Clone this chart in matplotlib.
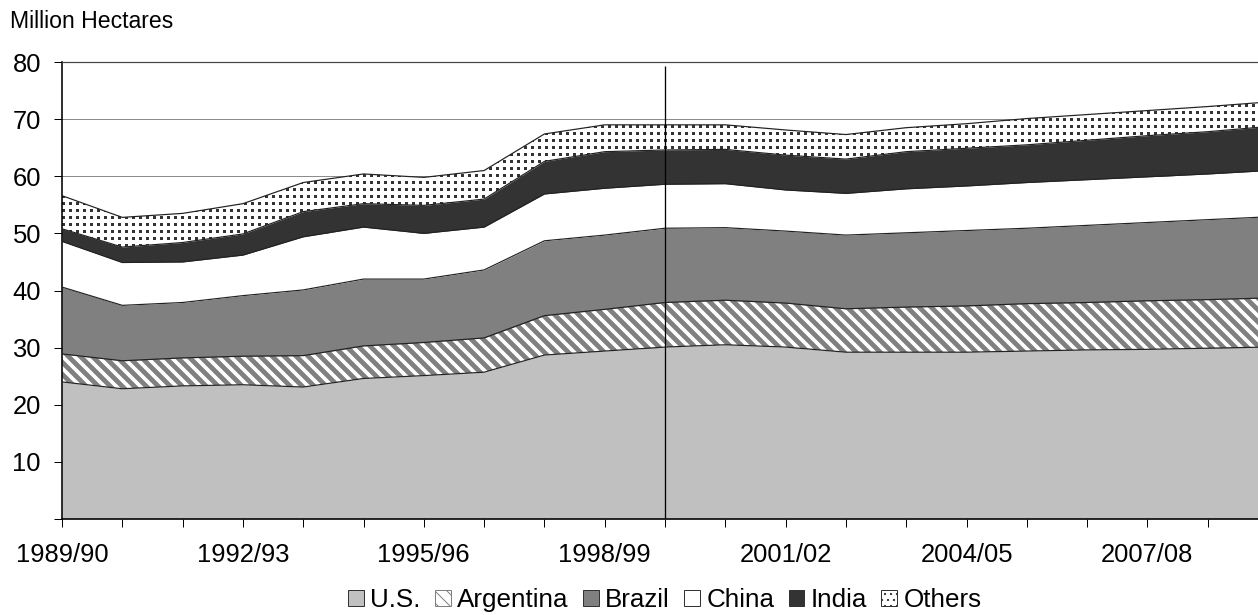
import numpy as np
import matplotlib.pyplot as plt
from matplotlib.patches import Patch

plt.rcParams['font.family'] = ['Liberation Sans', 'DejaVu Sans']

# Marketing years
years = ["1989/90", "1990/91", "1991/92", "1992/93", "1993/94", "1994/95",
         "1995/96", "1996/97", "1997/98", "1998/99", "1999/00", "2000/01",
         "2001/02", "2002/03", "2003/04", "2004/05", "2005/06", "2006/07",
         "2007/08", "2008/09", "2009/10"]

# Area harvested, million hectares
us = [24.0, 22.8, 23.3, 23.5, 23.1, 24.6, 25.1, 25.7, 28.7, 29.4, 30.1,
      30.5, 30.1, 29.2, 29.2, 29.2, 29.4, 29.6, 29.7, 29.9, 30.1]
argentina = [4.9, 4.9, 4.9, 5.0, 5.5, 5.7, 5.8, 6.0, 6.9, 7.3, 7.8,
             7.8, 7.7, 7.6, 7.9, 8.1, 8.3, 8.3, 8.5, 8.5, 8.6]
brazil = [11.7, 9.7, 9.7, 10.6, 11.5, 11.7, 11.1, 11.9, 13.1, 13.0, 13.0,
          12.7, 12.6, 12.9, 13.0, 13.2, 13.2, 13.5, 13.7, 14.0, 14.2]
china = [8.0, 7.5, 7.1, 7.1, 9.3, 9.1, 8.0, 7.5, 8.2, 8.2, 7.7,
         7.7, 7.2, 7.3, 7.7, 7.8, 8.0, 8.0, 8.0, 8.0, 8.1]
india = [2.2, 2.7, 3.4, 3.7, 4.4, 4.1, 4.9, 4.9, 5.7, 6.4, 6.0,
         6.0, 6.1, 6.0, 6.5, 6.6, 6.6, 6.9, 7.2, 7.4, 7.7]
others = [5.8, 5.2, 5.1, 5.3, 5.1, 5.2, 4.9, 5.0, 4.8, 4.7, 4.4,
          4.3, 4.4, 4.3, 4.2, 4.3, 4.6, 4.5, 4.4, 4.4, 4.3]

names = ["U.S.", "Argentina", "Brazil", "China", "India", "Others"]
series = [us, argentina, brazil, china, india, others]
divider_year = "1999/00"

# face colour, hatch, hatch colour, hatch line width
styles = [
    ("#c0c0c0", None, "#c0c0c0", 1.0),
    ("white", "\\\\", "#808080", 4.8),
    ("#808080", None, "#808080", 1.0),
    ("white", None, "white", 1.0),
    ("#333333", None, "#333333", 1.0),
    ("white", "dots", "#333333", 1.0),
]

DPI = 72
W, H = 1258, 615
AX_L, AX_TOP, AX_H = 62, 62, 457
fig = plt.figure(figsize=(W / DPI, H / DPI), dpi=DPI)
ax = fig.add_axes([AX_L / W, (H - AX_TOP - AX_H) / H, (W - AX_L) / W, AX_H / H])
xmax = (W - AX_L) / 60.3
ax.set_xlim(0, xmax)
ax.set_ylim(0, 80)


def dot_texture(w, h, period=7, size=3, color=(0.2, 0.2, 0.2)):
    img = np.ones((h, w, 3))
    rows = (np.arange(h) % period) < size
    cols = (np.arange(w) % period) < size
    img[np.outer(rows, cols)] = color
    return img


x = np.arange(len(years))
bottom = np.zeros(len(years))
handles = []
for name, vals, (fc, hatch, hc, hlw) in zip(names, series, styles):
    top = bottom + np.array(vals)
    if hatch == "dots":
        coll = ax.fill_between(x, bottom, top, facecolor=fc, linewidth=0,
                               zorder=2)
        im = ax.imshow(dot_texture(W - AX_L, AX_H), extent=(0, xmax, 0, 80),
                       aspect="auto", interpolation="nearest", zorder=2.5)
        im.set_clip_path(coll.get_paths()[0], ax.transData)
        with plt.rc_context({'hatch.linewidth': 2.0}):
            h = Patch(facecolor="white", edgecolor=hc, hatch="..",
                      linewidth=1, label=name)
    else:
        with plt.rc_context({'hatch.linewidth': hlw}):
            coll = ax.fill_between(x, bottom, top, facecolor=fc, edgecolor=hc,
                                   hatch=hatch, linewidth=0, zorder=2)
            if hasattr(coll, "set_hatch_linewidth"):
                coll.set_hatch_linewidth(hlw)
            h = Patch(facecolor=fc, edgecolor=hc if hatch else "#333333",
                      hatch=hatch, linewidth=1, label=name)
            if hasattr(h, "set_hatch_linewidth"):
                h.set_hatch_linewidth(min(hlw, 2.5))
    handles.append(h)
    ax.plot(x, top, color="#222222", linewidth=1.2, zorder=3)
    bottom = top

# divider between the two periods
ax.vlines(years.index(divider_year), 0, 79.3, color="black", linewidth=1.3,
          zorder=4)

ax.set_xticks(x)
ax.set_xticklabels([y if i % 3 == 0 else "" for i, y in enumerate(years)])
ax.set_yticks(np.arange(0, 81, 10))
ax.set_yticklabels([""] + [str(v) for v in range(10, 81, 10)])
ax.tick_params(axis="both", direction="out", length=8, width=1,
               color="black", labelsize=25.5)
ax.tick_params(axis="x", pad=16)
ax.tick_params(axis="y", pad=13)
ax.set_xlim(0, xmax)
ax.set_ylim(0, 80)

ax.grid(axis="y", color="#8c8c8c", linewidth=1)
ax.set_axisbelow(True)
ax.spines["right"].set_visible(False)
ax.spines["top"].set_color("#444444")
ax.spines["top"].set_linewidth(1.2)
ax.spines["left"].set_linewidth(1.6)
ax.spines["bottom"].set_linewidth(1.6)

fig.text(10 / W, 1 - 10 / H, "Million Hectares", fontsize=23,
         ha="left", va="top")

fig.legend(handles=handles, loc="lower center", ncol=6,
           bbox_to_anchor=(665 / W, -0.012), frameon=False, fontsize=26,
           handlelength=0.6, handleheight=0.6, handletextpad=0.25,
           columnspacing=0.55, borderaxespad=0)

fig.savefig("out.png", dpi=DPI)
